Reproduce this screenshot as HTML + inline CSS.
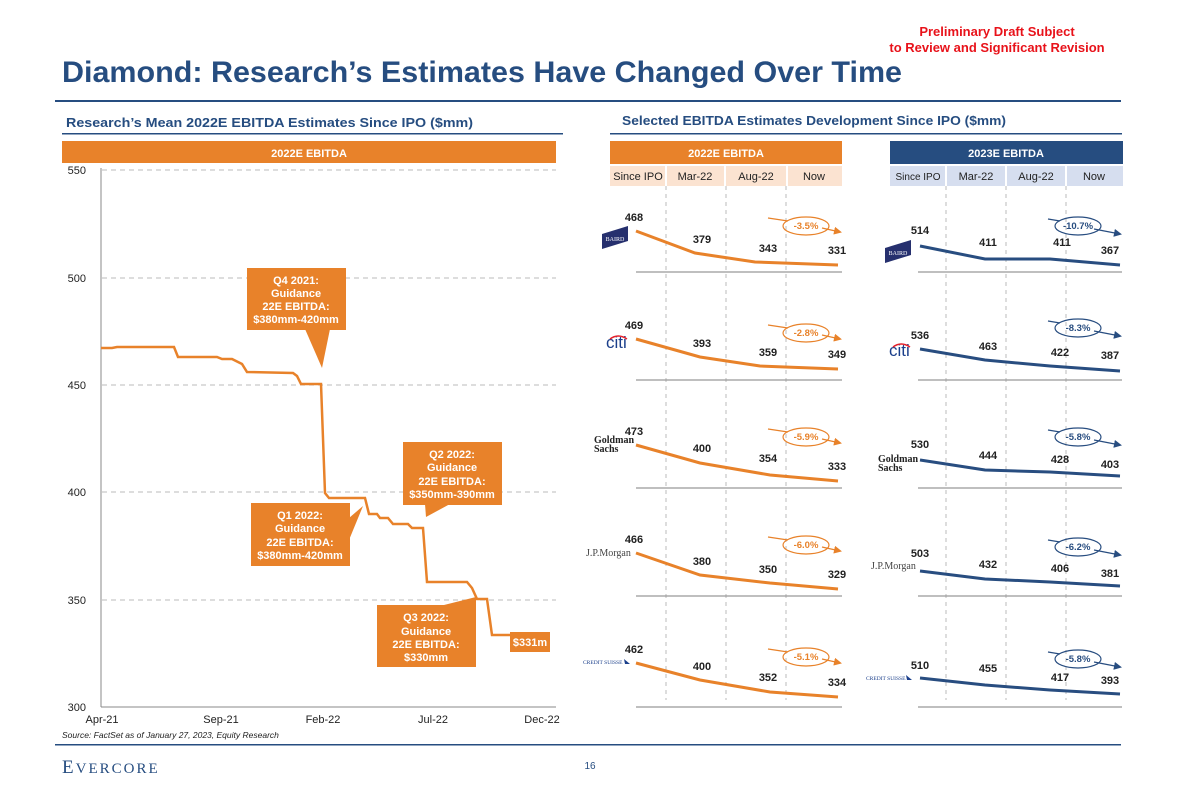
<!DOCTYPE html>
<html><head><meta charset="utf-8"><style>
body{margin:0;background:#fff}
svg{display:block;font-family:"Liberation Sans",sans-serif}
</style></head><body>
<svg width="1180" height="786" viewBox="0 0 1180 786">
<defs>
<marker id="ao" markerWidth="8" markerHeight="8" refX="6" refY="4" orient="auto" markerUnits="userSpaceOnUse"><path d="M0,0L8,4L0,8z" fill="#e8822a"/></marker>
<marker id="ab" markerWidth="8" markerHeight="8" refX="6" refY="4" orient="auto" markerUnits="userSpaceOnUse"><path d="M0,0L8,4L0,8z" fill="#284d80"/></marker>
</defs>
<text font-size="13" font-weight="bold" fill="#e8121a" text-anchor="middle"><tspan x="997" y="36">Preliminary Draft Subject</tspan><tspan x="997" y="52">to Review and Significant Revision</tspan></text>
<text x="62" y="82" font-size="30" font-weight="bold" fill="#264d80" textLength="840" lengthAdjust="spacingAndGlyphs">Diamond: Research’s Estimates Have Changed Over Time</text>
<rect x="55" y="100" width="1066" height="2" fill="#264d80"/>
<text x="66" y="127" font-size="13" font-weight="bold" fill="#264d80" textLength="407" lengthAdjust="spacingAndGlyphs">Research’s Mean 2022E EBITDA Estimates Since IPO ($mm)</text>
<rect x="62" y="133" width="501" height="1.5" fill="#264d80"/>
<text x="622" y="125" font-size="13" font-weight="bold" fill="#264d80" textLength="384" lengthAdjust="spacingAndGlyphs">Selected EBITDA Estimates Development Since IPO ($mm)</text>
<rect x="610" y="133" width="512" height="1.5" fill="#264d80"/>
<rect x="62" y="141" width="494" height="22" fill="#e8822a"/>
<text x="309" y="157" text-anchor="middle" font-size="11" font-weight="bold" fill="#fff">2022E EBITDA</text>
<g stroke="#bbb" stroke-dasharray="5,4" stroke-width="1">
<line x1="102" y1="170" x2="556" y2="170"/><line x1="102" y1="278" x2="556" y2="278"/><line x1="102" y1="385" x2="556" y2="385"/><line x1="102" y1="492" x2="556" y2="492"/><line x1="102" y1="600" x2="556" y2="600"/>
</g>
<line x1="101" y1="168" x2="101" y2="707" stroke="#888"/>
<line x1="101" y1="707" x2="556" y2="707" stroke="#888"/>
<g font-size="11" fill="#222" text-anchor="end">
<text x="86" y="174">550</text><text x="86" y="282">500</text><text x="86" y="389">450</text><text x="86" y="496">400</text><text x="86" y="604">350</text><text x="86" y="711">300</text>
</g>
<g font-size="11" fill="#222" text-anchor="middle">
<text x="102" y="723">Apr-21</text><text x="221" y="723">Sep-21</text><text x="323" y="723">Feb-22</text><text x="433" y="723">Jul-22</text><text x="542" y="723">Dec-22</text>
</g>
<polyline fill="none" stroke="#e8822a" stroke-width="2.5" points="101,348 112,348 117,347 174,347 178,357 217,357 222,359 232,359 242,364 247,372 293,373 297,376 301,384 321,384 325,493 329,498 365,498 369,514 377,514 380,518 388,518 393,524 408,524 412,528 423,528 427,582 467,582 472,588 477,599 487,599 492,635 510,635"/>
<g fill="#e8822a">
<rect x="247" y="268" width="99" height="62"/><polygon points="305,329 330,329 322,368"/>
<rect x="251" y="503" width="99" height="63"/><polygon points="349,518 349,540 363,506"/>
<rect x="403" y="442" width="99" height="63"/><polygon points="425,504 450,504 426,517"/>
<rect x="377" y="605" width="99" height="62"/><polygon points="440,606 476,606 476,597"/>
<rect x="510" y="632" width="40" height="20"/>
</g>
<g font-size="11" font-weight="bold" fill="#fff" text-anchor="middle">
<text x="296" y="284">Q4 2021:</text><text x="296" y="297">Guidance</text><text x="296" y="310">22E EBITDA:</text><text x="296" y="323">$380mm-420mm</text>
<text x="300" y="519">Q1 2022:</text><text x="300" y="532">Guidance</text><text x="300" y="546">22E EBITDA:</text><text x="300" y="559">$380mm-420mm</text>
<text x="452" y="458">Q2 2022:</text><text x="452" y="471">Guidance</text><text x="452" y="485">22E EBITDA:</text><text x="452" y="498">$350mm-390mm</text>
<text x="426" y="621">Q3 2022:</text><text x="426" y="635">Guidance</text><text x="426" y="648">22E EBITDA:</text><text x="426" y="661">$330mm</text>
<text x="530" y="646">$331m</text>
</g>
<text x="62" y="738" font-size="8.5" font-style="italic" fill="#222">Source: FactSet as of January 27, 2023, Equity Research</text>
<rect x="55" y="744" width="1066" height="1.5" fill="#264d80"/>
<text x="62" y="773" font-family="Liberation Serif,serif" font-size="19" letter-spacing="2" fill="#264d80">E<tspan font-size="15">VERCORE</tspan></text>
<text x="590" y="769" font-size="10" fill="#264d80" text-anchor="middle">16</text>
<rect x="610" y="141" width="232" height="23" fill="#e8822a"/>
<text x="726" y="157" text-anchor="middle" font-size="11" font-weight="bold" fill="#fff">2022E EBITDA</text>
<rect x="610" y="166" width="232" height="20" fill="#fbe3d1"/>
<rect x="890" y="141" width="233" height="23" fill="#264d80"/>
<text x="1006" y="157" text-anchor="middle" font-size="11" font-weight="bold" fill="#fff">2023E EBITDA</text>
<rect x="890" y="166" width="233" height="20" fill="#d6deef"/>
<g stroke="#fff" stroke-width="2"><line x1="666" y1="166" x2="666" y2="186"/><line x1="725" y1="166" x2="725" y2="186"/><line x1="787" y1="166" x2="787" y2="186"/><line x1="946" y1="166" x2="946" y2="186"/><line x1="1006" y1="166" x2="1006" y2="186"/><line x1="1066" y1="166" x2="1066" y2="186"/></g>
<g font-size="11" fill="#222" text-anchor="middle">
<text x="638" y="180">Since IPO</text><text x="695" y="180">Mar-22</text><text x="756" y="180">Aug-22</text><text x="814" y="180">Now</text>
<text x="918" y="180" font-size="10">Since IPO</text><text x="976" y="180">Mar-22</text><text x="1036" y="180">Aug-22</text><text x="1094" y="180">Now</text>
</g>
<g stroke="#bbb" stroke-dasharray="4,4"><line x1="666" y1="186" x2="666" y2="700"/><line x1="726" y1="186" x2="726" y2="700"/><line x1="786" y1="186" x2="786" y2="700"/><line x1="946" y1="186" x2="946" y2="700"/><line x1="1006" y1="186" x2="1006" y2="700"/><line x1="1066" y1="186" x2="1066" y2="700"/></g>
<g stroke="#999" stroke-width="1.2">
<line x1="636" y1="272" x2="842" y2="272"/><line x1="636" y1="380" x2="842" y2="380"/><line x1="636" y1="488" x2="842" y2="488"/><line x1="636" y1="596" x2="842" y2="596"/><line x1="636" y1="707" x2="842" y2="707"/>
<line x1="918" y1="272" x2="1122" y2="272"/><line x1="918" y1="380" x2="1122" y2="380"/><line x1="918" y1="488" x2="1122" y2="488"/><line x1="918" y1="596" x2="1122" y2="596"/><line x1="918" y1="707" x2="1122" y2="707"/>
</g>
<g fill="none" stroke="#e8822a" stroke-width="3">
<polyline points="636,231 695,253 755,262 838,265"/>
<polyline points="636,339 700,357 760,366 838,369"/>
<polyline points="636,445 700,463 770,475 838,481"/>
<polyline points="636,553 700,575 770,583 838,589"/>
<polyline points="636,663 700,680 770,692 838,697"/>
</g>
<g fill="none" stroke="#284d80" stroke-width="3">
<polyline points="920,246 985,259 1050,259 1120,265"/>
<polyline points="920,349 985,360 1050,366 1120,371"/>
<polyline points="920,460 985,470 1050,472 1120,476"/>
<polyline points="920,571 985,579 1050,582 1120,586"/>
<polyline points="920,678 985,685 1050,690 1120,694"/>
</g>
<g font-size="11" font-weight="bold" fill="#222" text-anchor="middle">
<text x="634" y="221">468</text><text x="702" y="243">379</text><text x="768" y="252">343</text><text x="837" y="254">331</text>
<text x="634" y="329">469</text><text x="702" y="347">393</text><text x="768" y="356">359</text><text x="837" y="358">349</text>
<text x="634" y="435">473</text><text x="702" y="452">400</text><text x="768" y="462">354</text><text x="837" y="470">333</text>
<text x="634" y="543">466</text><text x="702" y="565">380</text><text x="768" y="573">350</text><text x="837" y="578">329</text>
<text x="634" y="653">462</text><text x="702" y="670">400</text><text x="768" y="681">352</text><text x="837" y="686">334</text>
<text x="920" y="234">514</text><text x="988" y="246">411</text><text x="1062" y="246">411</text><text x="1110" y="254">367</text>
<text x="920" y="339">536</text><text x="988" y="350">463</text><text x="1060" y="356">422</text><text x="1110" y="359">387</text>
<text x="920" y="448">530</text><text x="988" y="459">444</text><text x="1060" y="463">428</text><text x="1110" y="468">403</text>
<text x="920" y="557">503</text><text x="988" y="568">432</text><text x="1060" y="572">406</text><text x="1110" y="577">381</text>
<text x="920" y="669">510</text><text x="988" y="672">455</text><text x="1060" y="681">417</text><text x="1110" y="684">393</text>
</g>
<g fill="none" stroke="#e8822a" stroke-width="1.2">
<g><line x1="768" y1="218" x2="788" y2="221"/><line x1="822" y1="228" x2="840" y2="232" marker-end="url(#ao)"/><ellipse cx="806" cy="226" rx="23" ry="9"/></g>
<g transform="translate(0,107)"><line x1="768" y1="218" x2="788" y2="221"/><line x1="822" y1="228" x2="840" y2="232" marker-end="url(#ao)"/><ellipse cx="806" cy="226" rx="23" ry="9"/></g>
<g transform="translate(0,211)"><line x1="768" y1="218" x2="788" y2="221"/><line x1="822" y1="228" x2="840" y2="232" marker-end="url(#ao)"/><ellipse cx="806" cy="226" rx="23" ry="9"/></g>
<g transform="translate(0,319)"><line x1="768" y1="218" x2="788" y2="221"/><line x1="822" y1="228" x2="840" y2="232" marker-end="url(#ao)"/><ellipse cx="806" cy="226" rx="23" ry="9"/></g>
<g transform="translate(0,431)"><line x1="768" y1="218" x2="788" y2="221"/><line x1="822" y1="228" x2="840" y2="232" marker-end="url(#ao)"/><ellipse cx="806" cy="226" rx="23" ry="9"/></g>
</g>
<g fill="none" stroke="#284d80" stroke-width="1.2">
<g><line x1="1048" y1="219" x2="1060" y2="221"/><line x1="1094" y1="229" x2="1120" y2="234" marker-end="url(#ab)"/><ellipse cx="1078" cy="226" rx="23" ry="9"/></g>
<g transform="translate(0,102)"><line x1="1048" y1="219" x2="1060" y2="221"/><line x1="1094" y1="229" x2="1120" y2="234" marker-end="url(#ab)"/><ellipse cx="1078" cy="226" rx="23" ry="9"/></g>
<g transform="translate(0,211)"><line x1="1048" y1="219" x2="1060" y2="221"/><line x1="1094" y1="229" x2="1120" y2="234" marker-end="url(#ab)"/><ellipse cx="1078" cy="226" rx="23" ry="9"/></g>
<g transform="translate(0,321)"><line x1="1048" y1="219" x2="1060" y2="221"/><line x1="1094" y1="229" x2="1120" y2="234" marker-end="url(#ab)"/><ellipse cx="1078" cy="226" rx="23" ry="9"/></g>
<g transform="translate(0,433)"><line x1="1048" y1="219" x2="1060" y2="221"/><line x1="1094" y1="229" x2="1120" y2="234" marker-end="url(#ab)"/><ellipse cx="1078" cy="226" rx="23" ry="9"/></g>
</g>
<g font-size="9.5" font-weight="bold" text-anchor="middle" fill="#e8822a">
<text x="806" y="229">-3.5%</text><text x="806" y="336">-2.8%</text><text x="806" y="440">-5.9%</text><text x="806" y="548">-6.0%</text><text x="806" y="660">-5.1%</text>
</g>
<g font-size="9.5" font-weight="bold" text-anchor="middle" fill="#284d80">
<text x="1078" y="229">-10.7%</text><text x="1078" y="331">-8.3%</text><text x="1078" y="440">-5.8%</text><text x="1078" y="550">-6.2%</text><text x="1078" y="662">-5.8%</text>
</g>
<polygon points="602,234 628,226 628,241 602,249" fill="#26306e"/><text x="615" y="241" font-size="6" fill="#fff" text-anchor="middle" font-family="Liberation Serif,serif">BAIRD</text>
<polygon points="885,248 911,240 911,255 885,263" fill="#26306e"/><text x="898" y="255" font-size="6" fill="#fff" text-anchor="middle" font-family="Liberation Serif,serif">BAIRD</text>
<text x="606" y="348" font-size="17" fill="#1b3f8b">citi</text><path d="M610,339 Q618,333 627,339" fill="none" stroke="#e4202a" stroke-width="1.5"/>
<text x="889" y="356" font-size="17" fill="#1b3f8b">citi</text><path d="M893,347 Q901,341 910,347" fill="none" stroke="#e4202a" stroke-width="1.5"/>
<g font-family="Liberation Serif,serif" font-weight="bold" font-size="10" fill="#222"><text x="594" y="443">Goldman</text><text x="594" y="452">Sachs</text><text x="878" y="462">Goldman</text><text x="878" y="471">Sachs</text></g>
<text x="586" y="556" font-family="Liberation Serif,serif" font-size="10" fill="#444">J.P.Morgan</text>
<text x="871" y="569" font-family="Liberation Serif,serif" font-size="10" fill="#444">J.P.Morgan</text>
<text x="583" y="664" font-family="Liberation Serif,serif" font-size="5.5" fill="#1b3f8b">CREDIT SUISSE</text><path d="M624,659 l6,5 h-5z" fill="#1b3f8b"/>
<text x="866" y="680" font-family="Liberation Serif,serif" font-size="5.5" fill="#1b3f8b">CREDIT SUISSE</text><path d="M906,675 l6,5 h-5z" fill="#1b3f8b"/>
</svg>
</body></html>
